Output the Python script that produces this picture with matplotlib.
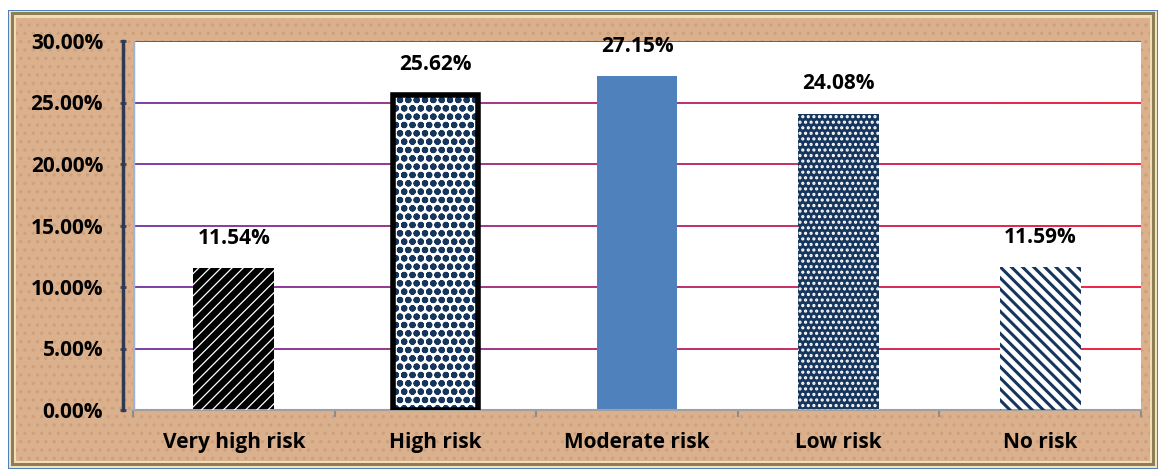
import numpy as np
import matplotlib.pyplot as plt
from matplotlib.patches import Rectangle
from matplotlib.collections import LineCollection
from matplotlib.colors import to_rgb

# data
categories = ["Very high risk", "High risk", "Moderate risk", "Low risk", "No risk"]
shares = [0.1154, 0.2562, 0.2715, 0.2408, 0.1159]
value_labels = ["11.54%", "25.62%", "27.15%", "24.08%", "11.59%"]
y_ticks = [0.0, 0.05, 0.10, 0.15, 0.20, 0.25, 0.30]
y_tick_labels = ["0.00%", "5.00%", "10.00%", "15.00%", "20.00%", "25.00%", "30.00%"]

# bar styles: face colour, hatch, hatch colour, hatch line width
navy = "#17365D"
faces = ["black", "white", "#4F81BD", navy, "white"]
hatches = ["///", "oo", None, "...", "\\\\\\"]
hatch_cols = ["white", navy, None, "white", navy]
hatch_lws = [0.9, 2.2, 1.0, 1.5, 2.2]

plt.rcParams["font.family"] = ["Open Sans", "DejaVu Sans"]

fig = plt.figure(figsize=(11.62, 4.71), dpi=100)
fig.patch.set_facecolor("white")

# frame around the chart, in pixels
W, H = 1162, 471
def px_rect(x0, y0, x1, y1, **kw):
    r = Rectangle((x0 / W, 1 - y1 / H), (x1 - x0) / W, (y1 - y0) / H,
                  transform=fig.transFigure, zorder=-10, **kw)
    fig.patches.append(r)

px_rect(8, 10, 1158, 469, facecolor="#4F81BD", edgecolor="none")
px_rect(9, 11, 1157, 468, facecolor="#F3E2BC", edgecolor="none")
px_rect(11, 12, 1155, 466, facecolor="#8C7E55", edgecolor="none")
px_rect(14, 15, 1152, 463, facecolor="#F0DDB5", edgecolor="none")
with plt.rc_context({"hatch.linewidth": 1.2}):
    px_rect(16, 18, 1150, 461, facecolor="#DBB08C", edgecolor="#CDA07E",
            hatch="..", linewidth=0)

ax = fig.add_axes([133 / W, 61 / H, (1141 - 133) / W, (410 - 41) / H])
ax.set_facecolor("white")
x = np.arange(len(categories))
ax.set_xlim(-0.5, len(categories) - 0.5)
ax.set_ylim(0, 0.30)

for s in ["top", "right"]:
    ax.spines[s].set_visible(False)
ax.spines["bottom"].set_color("#A0A0A0")
ax.spines["bottom"].set_linewidth(1.5)
ax.spines["left"].set_position(("outward", 7))
ax.spines["left"].set_color("#2F3A52")
ax.spines["left"].set_linewidth(2.5)
ax.axvline(-0.5, color="#9DB3DA", linewidth=2.5, zorder=5)

# gridlines going from purple on the left to red on the right
c0, c1 = np.array(to_rgb("#7030A0")), np.array(to_rgb("#F01030"))
xs = np.linspace(-0.5, len(categories) - 0.5, 120)
for yt in y_ticks[1:]:
    segs = [[(xs[i], yt), (xs[i + 1], yt)] for i in range(len(xs) - 1)]
    t = np.linspace(0, 1, len(segs))[:, None]
    cols = c0 * (1 - t) + c1 * t
    ax.add_collection(LineCollection(segs, colors=cols, linewidths=1.3, zorder=1))

width = 0.40
for i in range(len(categories)):
    ax.bar(x[i], shares[i], width=width, color=faces[i], edgecolor="none", zorder=2)
    if hatches[i]:
        with plt.rc_context({"hatch.linewidth": hatch_lws[i]}):
            ax.bar(x[i], shares[i], width=width, color="none", edgecolor=hatch_cols[i],
                   hatch=hatches[i], linewidth=0, zorder=3)
    if i == 1:
        ax.bar(x[i], shares[i], width=width + 0.02, color="none", edgecolor="black",
               linewidth=4, zorder=4)
    ax.annotate(value_labels[i], (x[i], shares[i]), xytext=(0, 14),
                textcoords="offset points", ha="center", va="bottom",
                fontsize=15, fontweight="bold")

ax.set_yticks(y_ticks)
ax.set_yticklabels(y_tick_labels, fontsize=15, fontweight="bold")
ax.set_xticks(x)
ax.set_xticklabels(categories, fontsize=15, fontweight="bold")
ax.set_xticks(np.arange(-0.5, len(categories)), minor=True)
ax.tick_params(axis="x", which="major", length=0, pad=16)
ax.tick_params(axis="x", which="minor", length=5, color="#8C8C8C", width=1.5)
ax.tick_params(axis="y", length=5, width=2, color="#3A4660", direction="inout", pad=12)

fig.savefig("out.png", dpi=100)
